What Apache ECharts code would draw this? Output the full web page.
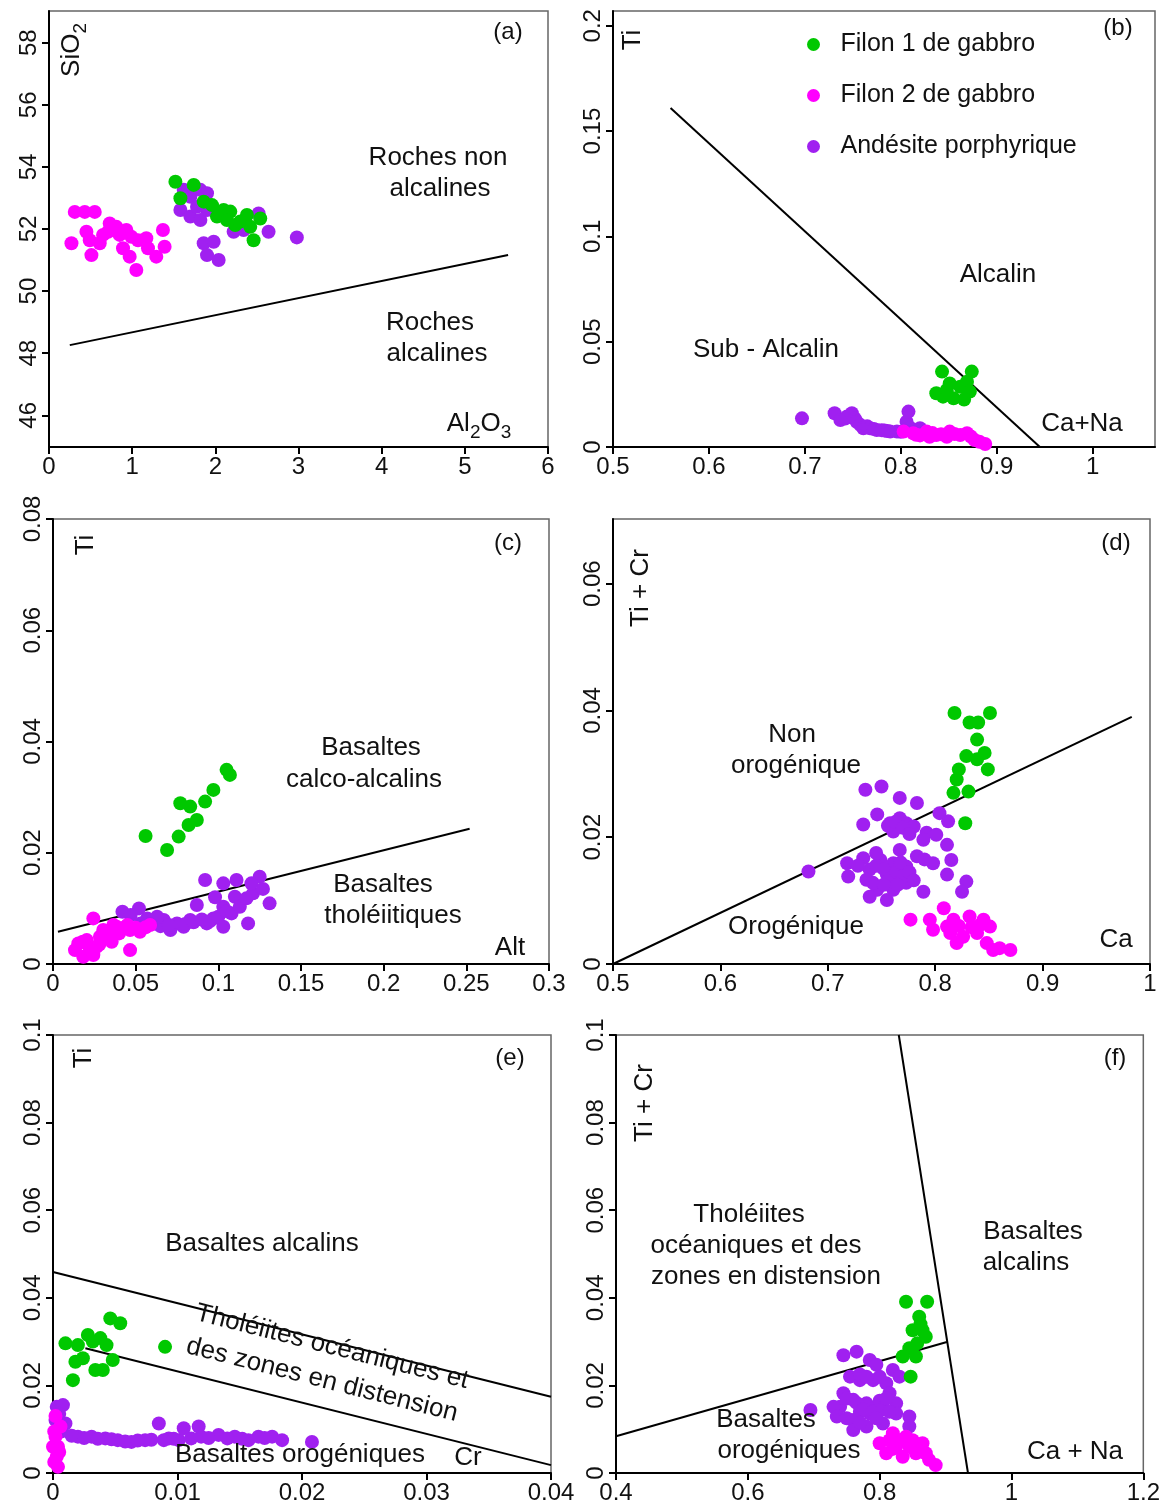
<!DOCTYPE html>
<html><head><meta charset="utf-8">
<script src="https://cdn.jsdelivr.net/npm/echarts@6/dist/echarts.min.js"></script>
<style>html,body{margin:0;padding:0;background:#fff}#c{width:1163px;height:1512px}</style>
</head><body><div id="c"></div>
<script>
// ---------- series names ----------
const NAMES = ['Filon 1 de gabbro', 'Filon 2 de gabbro', 'Andésite porphyrique'];
const COLORS = ['#00c800', '#ff00ff', '#a020f0'];

// ---------- panel (a): SiO2 vs Al2O3 ----------
const a_f1 = [[1.52,53.52],[1.74,53.42],[1.58,52.99],[1.86,52.88],[1.96,52.77],[2.02,52.40],[2.10,52.61],[2.18,52.56],[2.14,52.29],[2.24,52.13],[2.30,52.24],[2.38,52.45],[2.42,52.07],[2.54,52.34],[2.46,51.64]];
const a_f2 = [[0.31,52.55],[0.43,52.55],[0.55,52.55],[0.27,51.54],[0.45,51.91],[0.49,51.64],[0.51,51.16],[0.61,51.54],[0.65,51.81],[0.73,52.18],[0.71,51.91],[0.81,52.07],[0.85,51.81],[0.89,51.38],[0.93,51.97],[0.97,51.11],[0.99,51.75],[1.07,51.64],[1.05,50.68],[1.17,51.70],[1.19,51.38],[1.29,51.11],[1.37,51.97],[1.39,51.43]];
const a_and = [[1.62,53.26],[1.70,53.04],[1.82,53.26],[1.90,53.15],[1.58,52.61],[1.70,52.40],[1.82,52.29],[1.90,52.61],[1.78,52.72],[1.86,51.54],[1.98,51.59],[1.90,51.16],[2.04,51.00],[2.22,51.91],[2.34,51.97],[2.52,52.50],[2.64,51.91],[2.98,51.73]];
const a_line = [[0.25,48.26],[5.52,51.16]];
const a_xticks = [0,1,2,3,4,5,6];
const a_yticks = [46,48,50,52,54,56,58];

// ---------- panel (b): Ti vs Ca+Na ----------
const b_f1 = [[0.843,0.0358],[0.874,0.0358],[0.837,0.0255],[0.851,0.0302],[0.862,0.0286],[0.869,0.0310],[0.855,0.0231],[0.844,0.0239],[0.872,0.0263],[0.848,0.0271],[0.866,0.0225]];
const b_f2 = [[0.803,0.0073],[0.813,0.0065],[0.816,0.0058],[0.827,0.0073],[0.830,0.0049],[0.833,0.0066],[0.837,0.0057],[0.842,0.0060],[0.848,0.0049],[0.851,0.0073],[0.856,0.0062],[0.862,0.0057],[0.869,0.0065],[0.873,0.0050],[0.877,0.0033],[0.882,0.0025],[0.888,0.0014],[0.820,0.0055]];
const b_and = [[0.697,0.0136],[0.731,0.0160],[0.737,0.0128],[0.742,0.0135],[0.744,0.0145],[0.749,0.0160],[0.752,0.0135],[0.754,0.0120],[0.758,0.0104],[0.761,0.0089],[0.765,0.0098],[0.768,0.0089],[0.772,0.0085],[0.775,0.0081],[0.780,0.0080],[0.783,0.0078],[0.786,0.0076],[0.789,0.0073],[0.796,0.0073],[0.800,0.0072],[0.806,0.0120],[0.808,0.0168],[0.810,0.0090],[0.820,0.0089]];
const b_line = [[0.56,0.161],[0.945,0]];
const b_xticks = [0.5,0.6,0.7,0.8,0.9,1];
const b_yticks = [0,0.05,0.1,0.15,0.2];

// ---------- panel (c): Ti vs Alt ----------
const c_f1 = [[0.105,0.0349],[0.107,0.0340],[0.097,0.0313],[0.092,0.0292],[0.077,0.0289],[0.083,0.0283],[0.087,0.0259],[0.082,0.0250],[0.056,0.0230],[0.076,0.0229],[0.069,0.0205]];
const c_f2 = [[0.0244,0.0082],[0.0133,0.0025],[0.0183,0.0013],[0.0244,0.0016],[0.0204,0.0043],[0.0153,0.0037],[0.0264,0.0031],[0.0284,0.0049],[0.0304,0.0061],[0.0355,0.0040],[0.0365,0.0070],[0.0385,0.0067],[0.0466,0.0025],[0.0466,0.0061],[0.0526,0.0058],[0.0587,0.0070],[0.018,0.0040],[0.022,0.0030],[0.028,0.0035],[0.032,0.0055],[0.035,0.0060],[0.040,0.0055],[0.043,0.0065],[0.045,0.0070],[0.050,0.0065],[0.056,0.0066]];
const c_and = [[0.092,0.0151],[0.103,0.0145],[0.111,0.0151],[0.125,0.0157],[0.110,0.0121],[0.121,0.0127],[0.131,0.0109],[0.118,0.0073],[0.103,0.0103],[0.108,0.0091],[0.087,0.0106],[0.103,0.0067],[0.093,0.0073],[0.097,0.0082],[0.083,0.0079],[0.079,0.0067],[0.075,0.0073],[0.071,0.0061],[0.067,0.0079],[0.059,0.0076],[0.053,0.0073],[0.052,0.0100],[0.042,0.0094],[0.060,0.0072],[0.065,0.0068],[0.070,0.0070],[0.080,0.0072],[0.085,0.0075],[0.090,0.0080],[0.095,0.0077],[0.100,0.0085],[0.105,0.0095],[0.113,0.0103],[0.117,0.0118],[0.120,0.0145],[0.127,0.0135],[0.098,0.0120],[0.063,0.0085],[0.047,0.0088],[0.057,0.0082]];
const c_line = [[0.003,0.0058],[0.252,0.0243]];
const c_xticks = [0,0.05,0.1,0.15,0.2,0.25,0.3];
const c_yticks = [0,0.02,0.04,0.06,0.08];

// ---------- panel (d): Ti+Cr vs Ca ----------
const d_f1 = [[0.818,0.0396],[0.851,0.0396],[0.832,0.0381],[0.840,0.0381],[0.839,0.0354],[0.846,0.0333],[0.829,0.0328],[0.839,0.0323],[0.849,0.0307],[0.822,0.0307],[0.820,0.0291],[0.817,0.0270],[0.831,0.0272],[0.828,0.0222]];
const d_f2 = [[0.808,0.0088],[0.777,0.0070],[0.795,0.0070],[0.798,0.0054],[0.811,0.0059],[0.817,0.0070],[0.832,0.0075],[0.845,0.0070],[0.851,0.0059],[0.814,0.0049],[0.826,0.0043],[0.839,0.0049],[0.820,0.0033],[0.848,0.0033],[0.854,0.0022],[0.860,0.0025],[0.870,0.0022],[0.822,0.0060],[0.834,0.0058],[0.842,0.0062]];
const d_and = [[0.682,0.0146],[0.735,0.0275],[0.750,0.0280],[0.767,0.0262],[0.783,0.0254],[0.746,0.0236],[0.733,0.0220],[0.758,0.0222],[0.767,0.0230],[0.773,0.0222],[0.761,0.0209],[0.780,0.0217],[0.792,0.0207],[0.804,0.0238],[0.812,0.0225],[0.789,0.0196],[0.801,0.0204],[0.811,0.0188],[0.767,0.0180],[0.718,0.0159],[0.719,0.0138],[0.733,0.0167],[0.739,0.0149],[0.736,0.0133],[0.749,0.0164],[0.755,0.0141],[0.746,0.0117],[0.761,0.0159],[0.773,0.0154],[0.783,0.0170],[0.761,0.0117],[0.773,0.0128],[0.789,0.0114],[0.798,0.0159],[0.815,0.0164],[0.811,0.0141],[0.829,0.0130],[0.825,0.0114],[0.739,0.0106],[0.755,0.0101],[0.745,0.0155],[0.752,0.0150],[0.758,0.0135],[0.764,0.0145],[0.768,0.0160],[0.770,0.0138],[0.776,0.0145],[0.780,0.0132],[0.742,0.0128],[0.752,0.0125],[0.765,0.0125],[0.756,0.0218],[0.763,0.0224],[0.770,0.0215],[0.776,0.0205],[0.745,0.0175],[0.790,0.0165],[0.728,0.0155]];
const d_line = [[0.5,0],[0.983,0.039]];
const d_xticks = [0.5,0.6,0.7,0.8,0.9,1];
const d_yticks = [0,0.02,0.04,0.06];

// ---------- panel (e): Ti vs Cr ----------
const e_f1 = [[0.0046,0.0353],[0.0054,0.0342],[0.0010,0.0296],[0.0020,0.0292],[0.0028,0.0315],[0.0032,0.0300],[0.0038,0.0308],[0.0043,0.0292],[0.0024,0.0262],[0.0018,0.0254],[0.0034,0.0235],[0.0040,0.0235],[0.0048,0.0258],[0.0016,0.0212],[0.0090,0.0288]];
const e_f2 = [[0.0002,0.0083],[0.0004,0.0060],[0.0003,0.0037],[0.0004,0.0014],[0.0000,0.0060],[0.0006,0.0106],[0.0001,0.0025],[0.0002,0.0130],[0.0005,0.0048],[0.0001,0.0095]];
const e_and = [[0.0003,0.0151],[0.0008,0.0155],[0.0002,0.0121],[0.0010,0.0113],[0.0020,0.0083],[0.0031,0.0083],[0.0042,0.0079],[0.0052,0.0075],[0.0063,0.0071],[0.0074,0.0075],[0.0085,0.0113],[0.0093,0.0079],[0.0101,0.0075],[0.0105,0.0102],[0.0111,0.0079],[0.0117,0.0106],[0.0119,0.0083],[0.0133,0.0087],[0.0146,0.0083],[0.0157,0.0075],[0.0165,0.0083],[0.0176,0.0083],[0.0184,0.0075],[0.0208,0.0071],[0.0015,0.0085],[0.0025,0.0080],[0.0036,0.0078],[0.0047,0.0077],[0.0058,0.0072],[0.0068,0.0074],[0.0079,0.0076],[0.0089,0.0075],[0.0097,0.0078],[0.0125,0.0080],[0.0140,0.0079],[0.0152,0.0078],[0.0170,0.0080],[0.0005,0.0135],[0.0007,0.0095]];
const e_line1 = [[0,0.0459],[0.04,0.0174]];
const e_line2 = [[0.0026,0.0285],[0.04,0.0018]];
const e_xticks = [0,0.01,0.02,0.03,0.04];
const e_yticks = [0,0.02,0.04,0.06,0.08,0.1];

// ---------- panel (f): Ti+Cr vs Ca+Na ----------
const f_f1 = [[0.840,0.0391],[0.872,0.0391],[0.860,0.0357],[0.865,0.0326],[0.850,0.0326],[0.870,0.0311],[0.857,0.0296],[0.845,0.0285],[0.835,0.0266],[0.855,0.0266],[0.847,0.0220],[0.862,0.0340]];
const f_f2 = [[0.820,0.0091],[0.800,0.0068],[0.825,0.0060],[0.840,0.0083],[0.850,0.0075],[0.865,0.0068],[0.810,0.0045],[0.835,0.0037],[0.855,0.0045],[0.875,0.0030],[0.885,0.0018],[0.815,0.0075],[0.830,0.0075],[0.845,0.0060],[0.860,0.0055],[0.820,0.0055],[0.870,0.0045]];
const f_and = [[0.745,0.0269],[0.765,0.0277],[0.785,0.0258],[0.795,0.0247],[0.755,0.0220],[0.770,0.0212],[0.790,0.0212],[0.810,0.0205],[0.820,0.0235],[0.830,0.0220],[0.815,0.0182],[0.825,0.0159],[0.825,0.0136],[0.745,0.0182],[0.740,0.0151],[0.730,0.0151],[0.695,0.0144],[0.760,0.0167],[0.780,0.0159],[0.795,0.0151],[0.735,0.0129],[0.760,0.0121],[0.785,0.0136],[0.805,0.0113],[0.760,0.0098],[0.780,0.0106],[0.845,0.0129],[0.845,0.0106],[0.750,0.0170],[0.765,0.0160],[0.770,0.0140],[0.775,0.0145],[0.790,0.0140],[0.800,0.0165],[0.805,0.0145],[0.770,0.0225],[0.780,0.0220],[0.800,0.0220],[0.810,0.0170],[0.750,0.0125],[0.770,0.0115],[0.795,0.0125],[0.815,0.0140]];
const f_line1 = [[0.829,0.1],[0.934,0]];
const f_line2 = [[0.4,0.0084],[0.902,0.0299]];
const f_xticks = [0.4,0.6,0.8,1,1.2];
const f_yticks = [0,0.02,0.04,0.06,0.08,0.1];

// ---------- layout ----------
const FONT = '"Liberation Sans", Arial, sans-serif';
const grids = [
  {left:49, top:11, width:499, height:436},
  {left:613, top:11, width:542, height:436},
  {left:53, top:519, width:496, height:445},
  {left:613, top:519, width:537, height:445},
  {left:53, top:1035, width:498, height:438},
  {left:616, top:1035, width:535, height:438}
].map(g => Object.assign(g, {show:true, borderColor:'#666', borderWidth:1.5, backgroundColor:'transparent'}));

const ranges = [
  {x:[0,6], y:[44.98,59.02], xt:a_xticks, yt:a_yticks},
  {x:[0.5,1.065], y:[0,0.207], xt:b_xticks, yt:b_yticks},
  {x:[0,0.3], y:[0,0.08], xt:c_xticks, yt:c_yticks},
  {x:[0.5,1.0], y:[0,0.0702], xt:d_xticks, yt:d_yticks},
  {x:[0,0.04], y:[0,0.1], xt:e_xticks, yt:e_yticks},
  {x:[0.4,1.2], y:[0,0.1], xt:f_xticks, yt:f_yticks}
];
const fmt = v => String(+(+v).toFixed(4));
const xAxes = ranges.map((r,i) => ({
  type:'value', gridIndex:i, min:r.x[0], max:r.x[1], splitLine:{show:false},
  axisLine:{show:true, onZero:false, lineStyle:{color:'#000', width:2}},
  axisTick:{show:true, length:7, customValues:r.xt, lineStyle:{color:'#000', width:2}},
  axisLabel:{customValues:r.xt, formatter:fmt, fontSize:24, fontFamily:FONT, color:'#111', margin:8}
}));
const yAxes = ranges.map((r,i) => ({
  type:'value', gridIndex:i, min:r.y[0], max:r.y[1], splitLine:{show:false},
  axisLine:{show:true, onZero:false, lineStyle:{color:'#000', width:2}},
  axisTick:{show:true, length:7, customValues:r.yt, lineStyle:{color:'#000', width:2}},
  axisLabel:{customValues:r.yt, formatter:fmt, rotate:90, fontSize:24, fontFamily:FONT, color:'#111', margin:8}
}));

const panelData = [
  [a_f1, a_f2, a_and, [a_line]],
  [b_f1, b_f2, b_and, [b_line]],
  [c_f1, c_f2, c_and, [c_line]],
  [d_f1, d_f2, d_and, [d_line]],
  [e_f1, e_f2, e_and, [e_line1, e_line2]],
  [f_f1, f_f2, f_and, [f_line1, f_line2]]
];
const series = [];
panelData.forEach((p,i) => {
  p[3].forEach(l => series.push({type:'line', xAxisIndex:i, yAxisIndex:i, data:l, symbol:'none', silent:true,
    lineStyle:{color:'#000', width:2}, z:1}));
  [2,1,0].forEach(k => series.push({type:'scatter', name:NAMES[k], xAxisIndex:i, yAxisIndex:i, data:p[k],
    symbol:'circle', symbolSize:14, itemStyle:{color:COLORS[k], opacity:1}, z:2+ (k===0?2:(k===1?1:0))}));
});

function T(x, y, text, o) {
  o = o || {};
  return {type:'text', x:x, y:y, rotation:o.rot||0, silent:true, z:100,
    style:{text:text, fontSize:o.fs||26, fontFamily:FONT, fill:'#111',
      align:o.align||'center', verticalAlign:'middle', textAlign:o.align||'center', textVerticalAlign:'middle',
      rich:o.rich}};
}
const SUB = {n:{fontSize:26, fontFamily:FONT, lineHeight:36, fill:'#111'}, s:{fontSize:19, fontFamily:FONT, verticalAlign:'bottom', fill:'#111'}};
const R90 = Math.PI/2;
const ROT_E = -14.2*Math.PI/180;
const graphic = [
  // (a)
  T(508,32,'(a)',{fs:24}),
  T(72,50,'{n|SiO}{s|2}',{rot:R90, rich:SUB}),
  T(438,158,'Roches non'), T(440,189,'alcalines'),
  T(430,323,'Roches'), T(437,354,'alcalines'),
  T(479,424,'{n|Al}{s|2}{n|O}{s|3}',{rich:SUB}),
  // (b)
  T(1118,28,'(b)',{fs:24}),
  T(633,40,'Ti',{rot:R90}),
  T(998,275,'Alcalin'),
  T(766,350,'Sub - Alcalin'),
  T(1082,424,'Ca+Na'),
  // (c)
  T(508,543,'(c)',{fs:24}),
  T(86,545,'Ti',{rot:R90}),
  T(371,748,'Basaltes'), T(364,780,'calco-alcalins'),
  T(383,885,'Basaltes'), T(393,916,'tholéiitiques'),
  T(510,948,'Alt'),
  // (d)
  T(1116,543,'(d)',{fs:24}),
  T(641,588,'Ti + Cr',{rot:R90}),
  T(792,735,'Non'), T(796,766,'orogénique'),
  T(796,927,'Orogénique'),
  T(1116,940,'Ca'),
  // (e)
  T(510,1058,'(e)',{fs:24}),
  T(84,1058,'Ti',{rot:R90}),
  T(262,1244,'Basaltes alcalins'),
  T(332,1347,'Tholéiites océaniques et',{rot:ROT_E}),
  T(322,1380,'des zones en distension',{rot:ROT_E}),
  T(300,1455,'Basaltes orogéniques'),
  T(468,1458,'Cr'),
  // (f)
  T(1115,1058,'(f)',{fs:24}),
  T(645,1103,'Ti + Cr',{rot:R90}),
  T(749,1215,'Tholéiites'), T(756,1246,'océaniques et des'), T(766,1277,'zones en distension'),
  T(1033,1232,'Basaltes'), T(1026,1263,'alcalins'),
  T(766,1420,'Basaltes'), T(789,1451,'orogéniques'),
  T(1075,1452,'Ca + Na')
];

const chart = echarts.init(document.getElementById('c'), null, {renderer:'canvas'});
chart.setOption({
  animation:false,
  backgroundColor:'#fff',
  grid:grids, xAxis:xAxes, yAxis:yAxes, series:series, graphic:graphic,
  legend:{data:NAMES, orient:'vertical', left:802, top:27, itemWidth:44, itemHeight:13, itemGap:26,
    icon:'circle', selectedMode:false, textStyle:{fontSize:25, fontFamily:FONT, color:'#111'}}
});
</script></body></html>
